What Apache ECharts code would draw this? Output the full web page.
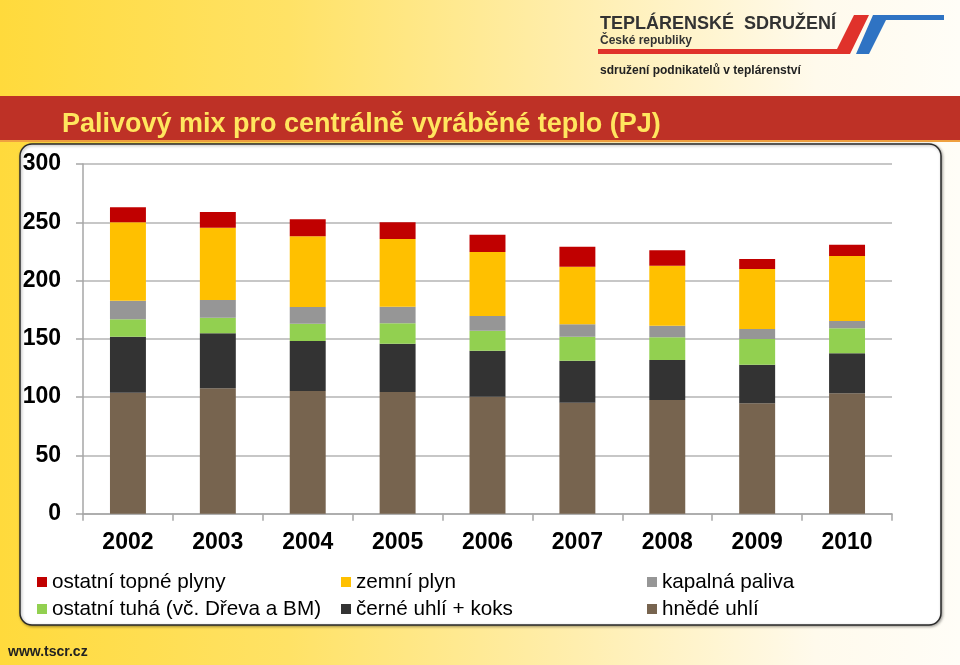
<!DOCTYPE html>
<html>
<head>
<meta charset="utf-8">
<script src="https://cdn.jsdelivr.net/npm/echarts@6/dist/echarts.min.js"></script>
<style>
html,body{margin:0;padding:0;}
#c{width:960px;height:665px;}
</style>
</head>
<body>
<div id="c"></div>
<script>
var years = ['2002','2003','2004','2005','2006','2007','2008','2009','2010'];
var hnedeUhli   = [103.8,107.6,105.3,104.4,100.4, 95.2, 97.5, 94.7,103.3];
var cerneUhli   = [ 48.0, 47.2, 42.9, 41.4, 39.4, 36.1, 34.4, 33.1, 34.3];
var ostatniTuha = [ 15.0, 13.3, 14.8, 17.5, 17.2, 20.5, 19.4, 22.1, 21.4];
var kapalna     = [ 15.9, 15.2, 14.3, 14.3, 12.6, 10.7, 10.0,  8.5,  6.3];
var zemniPlyn   = [ 67.3, 62.0, 60.7, 58.1, 54.9, 49.4, 51.4, 51.5, 55.8];
var ostatniPlyn = [ 12.8, 13.5, 14.5, 14.3, 14.8, 17.1, 13.3,  8.6,  9.7];
var yTicks = [0,50,100,150,200,250,300];

var names = {
  red: 'ostatní topné plyny',
  yellow: 'zemní plyn',
  gray: 'kapalná paliva',
  green: 'ostatní tuhá (vč. Dřeva a BM)',
  black: 'černé uhlí + koks',
  brown: 'hnědé uhlí'
};

function bar(name, data, color){
  return {name:name, type:'bar', stack:'total', data:data, barWidth:'40%',
          itemStyle:{color:color}, emphasis:{disabled:true}};
}

var chart = echarts.init(document.getElementById('c'), null, {renderer:'canvas'});
var legendCommon = {
  orient:'vertical', icon:'rect', itemWidth:10, itemHeight:10, itemGap:6,
  top:566.5, selectedMode:false,
  textStyle:{fontFamily:'Liberation Sans, Arial, sans-serif', fontSize:20.7, color:'#000', lineHeight:21}
};
var option = {
  animation:false,
  backgroundColor:{type:'linear', x:0, y:0, x2:1, y2:0,
    colorStops:[{offset:0,color:'#FFDA3C'},{offset:0.3,color:'#FFE266'},{offset:0.6,color:'#FFEEAE'},{offset:0.85,color:'#FFFAEC'},{offset:1,color:'#FFFDF7'}]},
  title:{text:'Palivový mix pro centrálně vyráběné teplo (PJ)', left:57, top:106,
    textStyle:{fontFamily:'Liberation Sans, Arial, sans-serif', fontSize:27, fontWeight:'bold', color:'#FFE65E'}},
  graphic:[
    {type:'rect', z:-10, shape:{x:0,y:96,width:960,height:44}, style:{fill:'#BE3126'}},
    {type:'rect', z:-10, shape:{x:0,y:140,width:960,height:2}, style:{fill:'#EFA040'}},
    {type:'rect', z:-10, shape:{x:20,y:144,width:921,height:481,r:12}, style:{fill:'#FFFFFF', stroke:'#2A2A2A', lineWidth:1.5, shadowBlur:3, shadowColor:'rgba(0,0,0,0.35)', shadowOffsetX:1, shadowOffsetY:1}},
    {type:'polygon', z:-9, shape:{points:[[598,49],[837,49],[854,15],[869,15],[850,54],[598,54]]}, style:{fill:'#E0322B'}},
    {type:'polygon', z:-9, shape:{points:[[856,54],[873,15],[944,15],[944,20],[886,20],[869,54]]}, style:{fill:'#2F73C3'}},
    {type:'text', z:-8, left:600, top:15, style:{text:'TEPLÁRENSKÉ  SDRUŽENÍ', fill:'#333', font:'bold 18px Liberation Sans, Arial, sans-serif'}},
    {type:'text', z:-8, left:600, top:35, style:{text:'České republiky', fill:'#333', font:'bold 12px Liberation Sans, Arial, sans-serif'}},
    {type:'text', z:-8, left:600, top:65, style:{text:'sdružení podnikatelů v teplárenství', fill:'#222', font:'bold 12px Liberation Sans, Arial, sans-serif'}},
    {type:'text', z:-8, left:8, top:645, style:{text:'www.tscr.cz', fill:'#222', font:'bold 14px Liberation Sans, Arial, sans-serif'}}
  ],
  legend:[
    Object.assign({left:32, data:[names.red, names.green]}, legendCommon),
    Object.assign({left:336, data:[names.yellow, names.black]}, legendCommon),
    Object.assign({left:642, data:[names.gray, names.brown]}, legendCommon)
  ],
  grid:{left:83, right:68, top:164, bottom:151.3, containLabel:false},
  xAxis:{type:'category', data:years,
    axisLine:{lineStyle:{color:'#A6A6A6', width:1.5}},
    axisTick:{show:true, length:7, lineStyle:{color:'#A6A6A6', width:1.5}},
    axisLabel:{margin:17, fontFamily:'Liberation Sans, Arial, sans-serif', fontSize:23, fontWeight:'bold', color:'#000'}},
  yAxis:{type:'value', min:yTicks[0], max:yTicks[yTicks.length-1], interval:yTicks[1]-yTicks[0],
    axisLine:{show:true, lineStyle:{color:'#A6A6A6', width:1.5}},
    axisTick:{show:true, length:7, lineStyle:{color:'#A6A6A6', width:1.5}},
    splitLine:{lineStyle:{color:'#B4B4B4', width:1.5}},
    axisLabel:{margin:22, fontFamily:'Liberation Sans, Arial, sans-serif', fontSize:23, fontWeight:'bold', color:'#000'}},
  series:[
    bar(names.brown, hnedeUhli, '#77644F'),
    bar(names.black, cerneUhli, '#333333'),
    bar(names.green, ostatniTuha, '#92D050'),
    bar(names.gray, kapalna, '#969696'),
    bar(names.yellow, zemniPlyn, '#FFC000'),
    bar(names.red, ostatniPlyn, '#C00000')
  ]
};
chart.setOption(option);
</script>
</body>
</html>
